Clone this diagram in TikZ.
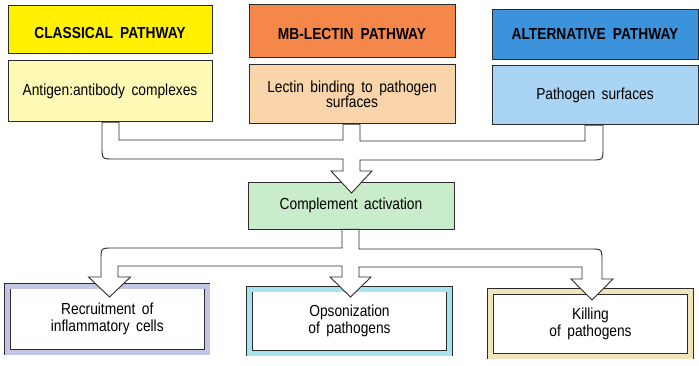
\documentclass[tikz,border=0pt]{standalone}
\usepackage{fontspec}
\setmainfont{Liberation Sans}[FakeStretch=0.86]
\usepackage{tikz}
\usetikzlibrary{positioning,calc}
\definecolor{classyellow}{HTML}{FFF100}
\definecolor{classpale}{HTML}{FFF9B6}
\definecolor{lectinorange}{HTML}{F5874A}
\definecolor{lectinpale}{HTML}{FAD4AB}
\definecolor{altblue}{HTML}{3D93DB}
\definecolor{altpale}{HTML}{A9D4F3}
\definecolor{actgreen}{HTML}{C9ECCB}
\definecolor{bandlilac}{HTML}{C4C4E4}
\definecolor{bandcyan}{HTML}{A8E2EE}
\definecolor{bandcream}{HTML}{F2E4BA}
\definecolor{edge}{HTML}{2B2B2B}
\newcommand\wordgap[1]{\spaceskip #1\relax}
\tikzstyle{pipe} = [draw=edge, line width=0.9pt, fill=white, line join=miter]

\begin{document}
\begin{tikzpicture}[x=1pt, y=-1pt, node distance=7pt,
  headbox/.style={rectangle, draw=edge, line width=0.8pt, inner sep=0pt, font={\fontsize{16}{18}\selectfont\bfseries\wordgap{7pt}}},
  srcbox/.style={rectangle, draw=edge, line width=0.8pt, inner sep=0pt, align=center, font={\fontsize{16}{14.5}\selectfont\wordgap{6.5pt}}},
  outbox/.style={rectangle, draw=edge, line width=0.8pt, double distance=5pt, fill=white, inner sep=0pt, minimum width=200pt, align=center, font={\fontsize{16}{17}\selectfont\wordgap{6.5pt}}}]

\useasboundingbox (0,0) rectangle (699,365);

\node[headbox, fill=classyellow, minimum width=204pt, minimum height=48pt, text height=18pt, text depth=0pt] (classical) at (110,29) {CLASSICAL PATHWAY};
\node[srcbox, fill=classpale, minimum width=204pt, minimum height=61pt, below=of classical] (antigen) {Antigen:antibody complexes};

\node[headbox, fill=lectinorange, minimum width=206pt, minimum height=53pt, text height=18pt, text depth=0pt] (lectin) at (352,30.5) {MB-LECTIN PATHWAY};
\node[srcbox, fill=lectinpale, minimum width=206pt, minimum height=59pt, below=of lectin] (binding) {Lectin binding to pathogen\\surfaces};

\node[headbox, fill=altblue, minimum width=206pt, minimum height=50pt] (alternative) at (595,34) {ALTERNATIVE PATHWAY};
\node[srcbox, fill=altpale, minimum width=206pt, minimum height=59pt, below=6pt of alternative] (surfaces) {Pathogen surfaces};

\node[srcbox, fill=actgreen, minimum width=206pt, minimum height=47pt] (activation) at (351,205.5) {Complement activation};

\node[outbox, double=bandlilac, minimum width=199.5pt, minimum height=66pt] (recruit) at (107.3,319) {Recruitment of\\inflammatory cells};
\node[outbox, double=bandcyan, minimum height=64pt] (opson) at (349.5,321) {Opsonization\\of pathogens};
\node[outbox, double=bandcream, minimum height=64.5pt] (killing) at (590.5,323.8) {Killing\\of pathogens};

\draw[pipe] (antigen.south -| 102,0) -- (102,147) .. controls (102,159) .. (114,159) -- (343,159) -- (343,171) -- (331,171)
  -- (351.5,193) -- (372,171) -- (360,171) -- (360,160) -- (591,160) .. controls (603,160) .. (603,148)
  -- (surfaces.south -| 603,0) -- (surfaces.south -| 585,0) -- (585,141) -- (360,141) -- (binding.south -| 360,0)
  -- (binding.south -| 343,0) -- (343,140) -- (119,140) -- (antigen.south -| 119,0) -- cycle;

\draw[pipe] (activation.south -| 342,0) -- (342,248) -- (113,248) .. controls (101,248) .. (101,260) -- (101,277)
  -- (88.5,277) -- (109.5,297) -- (130.5,277) -- (118,277) -- (118,266) -- (342,266) -- (342,277) -- (330,277)
  -- (350.5,297) -- (371,277) -- (359,277) -- (359,267) -- (582,267) -- (582,279) -- (571,279) -- (592,300)
  -- (613,279) -- (602,279) -- (602,261) .. controls (602,249) .. (590,249) -- (359,249) -- (activation.south -| 359,0) -- cycle;
\end{tikzpicture}
\end{document}
